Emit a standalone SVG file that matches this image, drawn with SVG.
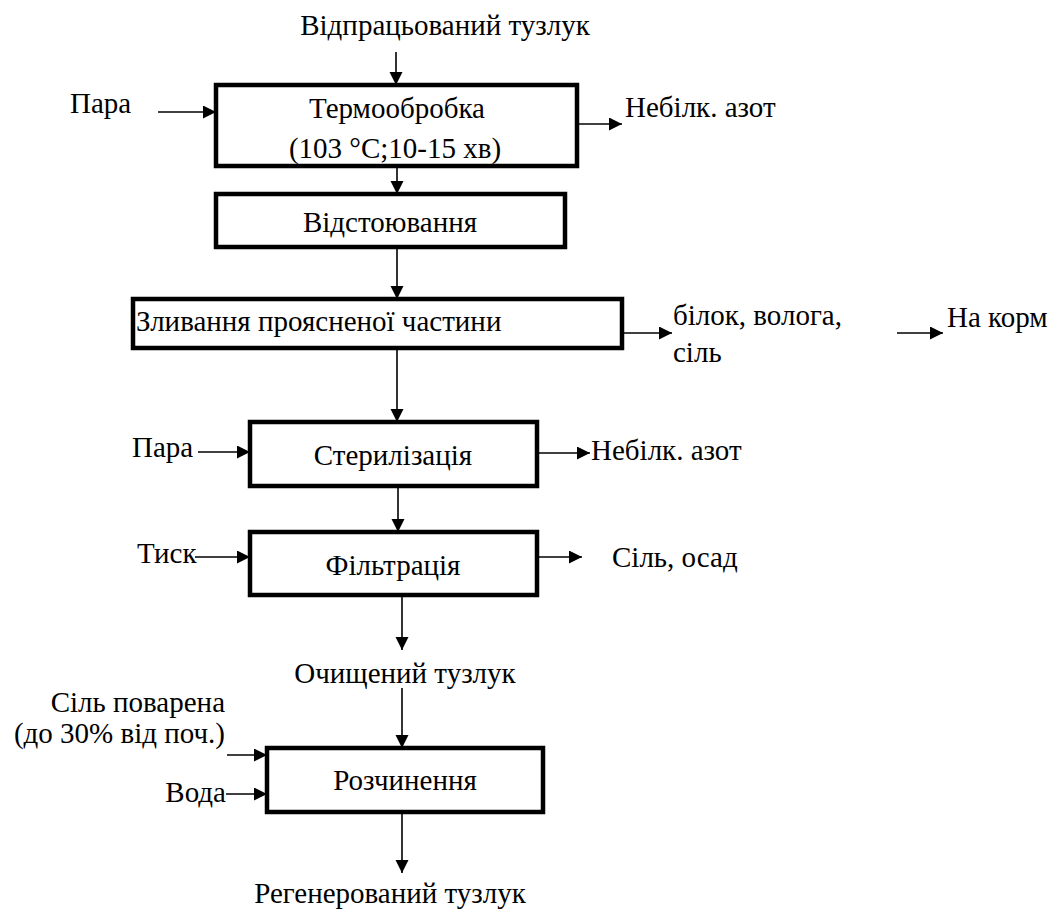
<svg xmlns="http://www.w3.org/2000/svg" width="1050" height="910" viewBox="0 0 1050 910" font-family="Liberation Serif, Times New Roman, DejaVu Serif, serif" font-size="29">
<defs>
<marker id="ah" markerUnits="userSpaceOnUse" markerWidth="14" markerHeight="14" refX="13" refY="6.5" orient="auto">
<path d="M0,0 L13,6.5 L0,13 z" fill="#000"/>
</marker>
<style>
.t{font-family:Liberation Serif, Times New Roman, DejaVu Serif, serif;font-size:29px;fill:#000}
.c{text-anchor:middle}
.e{text-anchor:end}
.box{fill:#fff;stroke:#000;stroke-width:4.5}
.ar{stroke:#000;stroke-width:1.6;fill:none;marker-end:url(#ah)}
</style>
</defs>
<rect width="1050" height="910" fill="#fff"/>
<g id="connectors">
<line class="ar" x1="396" y1="52" x2="396" y2="85"/>
<line class="ar" x1="158" y1="112" x2="216" y2="112"/>
<line class="ar" x1="577" y1="124" x2="622" y2="124"/>
<line class="ar" x1="397" y1="166" x2="397" y2="194"/>
<line class="ar" x1="397" y1="247" x2="397" y2="299"/>
<line class="ar" x1="623" y1="333" x2="672" y2="333"/>
<line class="ar" x1="897" y1="333" x2="943" y2="333"/>
<line class="ar" x1="397" y1="348" x2="397" y2="422"/>
<line class="ar" x1="198" y1="452" x2="250" y2="452"/>
<line class="ar" x1="537" y1="453" x2="590" y2="453"/>
<line class="ar" x1="398" y1="486" x2="398" y2="532"/>
<line class="ar" x1="195" y1="557" x2="250" y2="557"/>
<line class="ar" x1="537" y1="557" x2="582" y2="557"/>
<line class="ar" x1="402" y1="595" x2="402" y2="650"/>
<line class="ar" x1="402" y1="688" x2="402" y2="748"/>
<line class="ar" x1="227" y1="755" x2="267" y2="755"/>
<line class="ar" x1="226" y1="794" x2="267" y2="794"/>
<line class="ar" x1="402" y1="812" x2="402" y2="873"/>
</g>
<g id="labels">
<text class="t c" x="445" y="35">Відпрацьований тузлук</text>
<text class="t" x="70" y="113">Пара</text>
<text class="t" x="625" y="117">Небілк. азот</text>
<text class="t" x="673" y="325">білок, волога,</text>
<text class="t" x="673" y="362">сіль</text>
<text class="t" x="947" y="327">На корм</text>
<text class="t" x="132" y="457">Пара</text>
<text class="t" x="591" y="460">Небілк. азот</text>
<text class="t" x="137" y="563">Тиск</text>
<text class="t" x="612" y="567">Сіль, осад</text>
<text class="t c" x="405" y="683">Очищений тузлук</text>
<text class="t e" x="225" y="712">Сіль поварена</text>
<text class="t e" x="225" y="743">(до 30% від поч.)</text>
<text class="t e" x="226" y="802">Вода</text>
<text class="t c" x="390" y="903">Регенерований тузлук</text>
</g>
<g id="n1">
<rect class="box" x="216" y="85" width="361" height="81"/>
<text class="t c" x="397" y="118">Термообробка</text>
<text class="t c" x="395" y="158">(103 °C;10-15 хв)</text>
</g>
<g id="n2">
<rect class="box" x="216" y="194" width="349" height="53"/>
<text class="t c" x="390" y="232">Відстоювання</text>
</g>
<g id="n3">
<rect class="box" x="133" y="299" width="489" height="49"/>
<text class="t" x="136" y="331">Зливання проясненої частини</text>
</g>
<g id="n4">
<rect class="box" x="250" y="422" width="287" height="64"/>
<text class="t c" x="393" y="465">Стерилізація</text>
</g>
<g id="n5">
<rect class="box" x="250" y="532" width="287" height="63"/>
<text class="t c" x="393" y="575">Фільтрація</text>
</g>
<g id="n6">
<rect class="box" x="267" y="748" width="276" height="64"/>
<text class="t c" x="405" y="790">Розчинення</text>
</g>
</svg>
